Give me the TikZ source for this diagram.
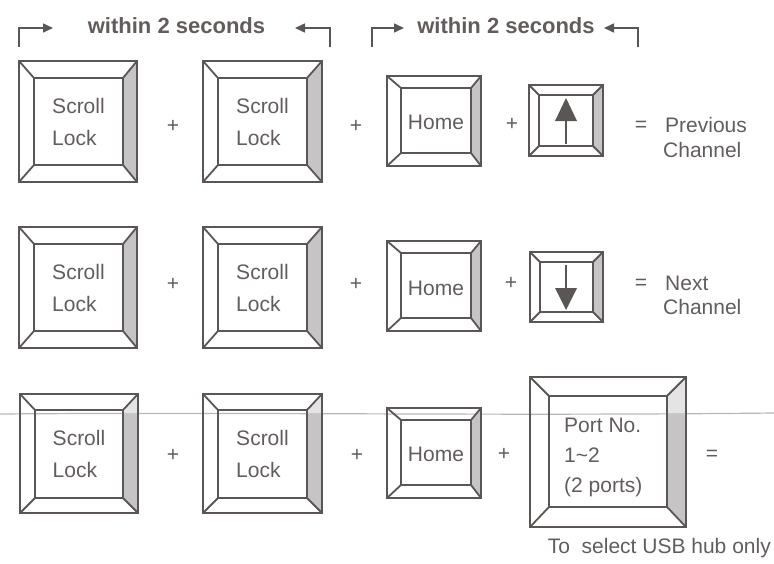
\documentclass[tikz,border=0pt]{standalone}
\usepackage{fontspec}
\setmainfont{Liberation Sans}
\usetikzlibrary{arrows.meta}
\definecolor{ink}{HTML}{5B5656}
\definecolor{txt}{HTML}{625C5C}
\definecolor{bevel}{HTML}{C6C4C4}
\definecolor{fold}{HTML}{B9B6B6}
\newcommand\kbkey[9]{%
  \fill[bevel] (#4,#3) -- (#8,#7) -- (#8,#9) -- (#4,#5) -- cycle;
  \draw[keyline] (#2,#3) rectangle (#4,#5);
  \draw[keyline] (#6,#7) rectangle (#8,#9);
  \draw[keyline] (#2,#3) -- (#6,#7) (#4,#3) -- (#8,#7) (#2,#5) -- (#6,#9) (#4,#5) -- (#8,#9);
  \coordinate (#1) at ({(#6+#8)/2},{(#7+#9)/2});
}
\newcommand\kbkeyfold[9]{%
  \fill[bevel] (#4,413) -- (#8,413) -- (#8,#9) -- (#4,#5) -- cycle;
  \fill[bevel!45] (#4,#3) -- (#8,#7) -- (#8,413) -- (#4,413) -- cycle;
  \draw[keyline] (#2,#3) rectangle (#4,#5);
  \draw[keyline] (#6,#7) rectangle (#8,#9);
  \draw[keyline] (#2,#3) -- (#6,#7) (#4,#3) -- (#8,#7) (#2,#5) -- (#6,#9) (#4,#5) -- (#8,#9);
  \coordinate (#1) at ({(#6+#8)/2},{(#7+#9)/2});
}
\tikzset{
  keyline/.style={draw=ink, line width=1.8pt},
  keytext/.style={text=txt, font=\fontsize{21}{32}\selectfont, align=left, inner sep=0pt},
  porttext/.style={text=txt, font=\fontsize{21}{30}\selectfont, align=left, inner sep=0pt},
  optext/.style={text=txt, font=\fontsize{21}{25}\selectfont, inner sep=0pt},
  headtext/.style={text=txt, font=\bfseries\fontsize{22}{26}\selectfont, inner sep=0pt},
  bracket/.style={draw=ink, line width=1.6pt, -{Triangle[length=10pt,width=9pt]}},
  arrowkey/.style={draw=ink, line width=2.2pt, fill=ink},
}
\begin{document}
\begin{tikzpicture}[x=1pt,y=-1pt]
\useasboundingbox (0,0) rectangle (774,563);

% fold line (scan crease)
\draw[fold, line width=1.2pt] (0,414) .. controls (250,412) and (500,416) .. (774,413);

% header
\coordinate (b1s) at (19,47); \coordinate (b1c) at (19,28); \coordinate (b1e) at (53,28);
\coordinate (b2s) at (330,47); \coordinate (b2c) at (330,28); \coordinate (b2e) at (295,28);
\coordinate (b3s) at (372,47); \coordinate (b3c) at (372,28); \coordinate (b3e) at (404,28);
\coordinate (b4s) at (638,47); \coordinate (b4c) at (638,28); \coordinate (b4e) at (604,28);
\draw[bracket] (b1s) -- (b1c) -- (b1e);
\draw[bracket] (b2s) -- (b2c) -- (b2e);
\draw[bracket] (b3s) -- (b3c) -- (b3e);
\draw[bracket] (b4s) -- (b4c) -- (b4e);
\node[headtext] (h1) at (176.5,26) {within 2 seconds};
\node[headtext] (h2) at (506,26) {within 2 seconds};

% row 1
\kbkey{k11}{19}{61}{137}{182}{34}{78}{123}{165}
\kbkey{k12}{203}{61}{322}{182}{218}{78}{307}{165}
\kbkey{k13}{387}{76}{481}{166}{401}{88}{471}{153}
\kbkey{k14}{529}{85}{603}{156}{539}{95}{593}{146}
\node[keytext] (t11) at (k11) {Scroll\\Lock};
\node[keytext] (t12) at (k12) {Scroll\\Lock};
\node[keytext] (t13) at (436,122) {Home};
\coordinate (u1) at (566,144); \coordinate (u2) at (566,118);
\draw[ink, line width=2.4pt] (u1) -- (u2);
\fill[ink] (566,98) -- (577,121) -- (555,121) -- cycle;
\node[optext] (p11) at (173,126) {+};
\node[optext] (p12) at (356,126) {+};
\node[optext] (p13) at (512,124) {+};
\node[optext] (e1) at (641,126) {=};
\node[optext, anchor=west] (r1a) at (665,125) {Previous};
\node[optext, anchor=west] (r1b) at (663,150) {Channel};

% row 2
\kbkey{k21}{19}{227}{137}{348}{34}{244}{123}{331}
\kbkey{k22}{203}{227}{322}{348}{218}{244}{307}{331}
\kbkey{k23}{387}{241}{481}{331}{401}{253}{471}{318}
\kbkey{k24}{530}{252}{603}{322}{540}{262}{593}{312}
\node[keytext] (t21) at (k21) {Scroll\\Lock};
\node[keytext] (t22) at (k22) {Scroll\\Lock};
\node[keytext] (t23) at (436,288) {Home};
\coordinate (d1) at (566,265); \coordinate (d2) at (566,291);
\draw[ink, line width=2.4pt] (d1) -- (d2);
\fill[ink] (566,310) -- (577,288) -- (555,288) -- cycle;
\node[optext] (p21) at (173,284) {+};
\node[optext] (p22) at (356,284) {+};
\node[optext] (p23) at (511,283) {+};
\node[optext] (e2) at (641,284) {=};
\node[optext, anchor=west] (r2a) at (665,283) {Next};
\node[optext, anchor=west] (r2b) at (663,307) {Channel};

% row 3
\kbkeyfold{k31}{20}{394}{138}{513}{35}{410}{123}{498}
\kbkeyfold{k32}{203}{394}{322}{513}{218}{410}{307}{498}
\kbkey{k33}{387}{408}{481}{498}{401}{420}{471}{485}
\kbkeyfold{k34}{530}{377}{686}{527}{549}{396}{667}{507}
\node[keytext] (t31) at (k31) {Scroll\\Lock};
\node[keytext] (t32) at (k32) {Scroll\\Lock};
\node[keytext] (t33) at (436,454) {Home};
\node[porttext, anchor=west] (t34) at (564,457) {Port No.\\1\textasciitilde2\\(2 ports)};
\node[optext] (p31) at (173,455) {+};
\node[optext] (p32) at (357,455) {+};
\node[optext] (p33) at (504,454) {+};
\node[optext] (e3) at (712,455) {=};
\node[optext, anchor=east] (note) at (771,548) {To\ \ select USB hub only};
\end{tikzpicture}
\end{document}
